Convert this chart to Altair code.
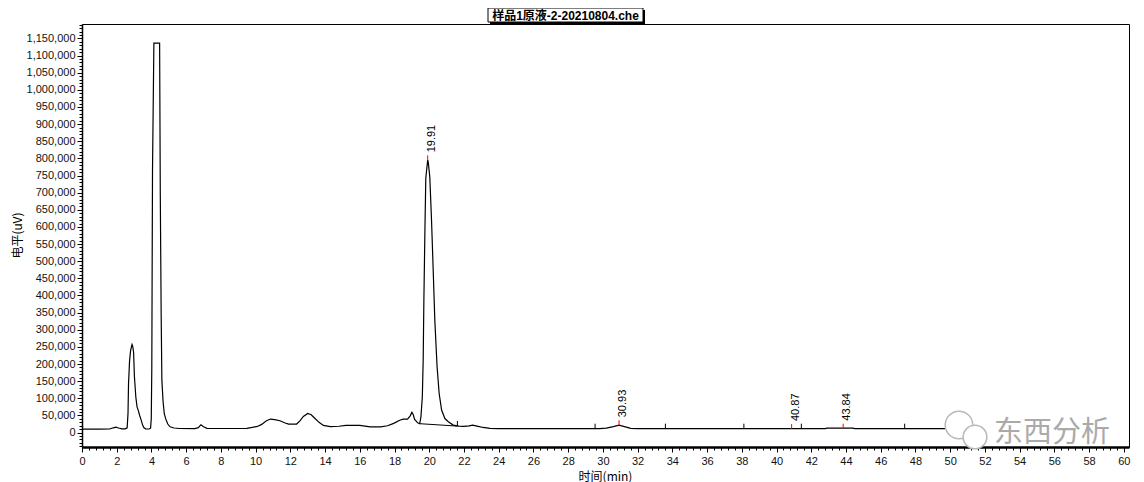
import altair as alt
import pandas as pd

# ---------------- data ----------------
times = [0.0, 1.0, 1.6, 1.8, 1.95, 2.1, 2.3, 2.5, 2.6, 2.65, 2.68, 2.74, 2.8, 2.88, 2.92,
         2.97, 3.02, 3.1, 3.17, 3.24, 3.32, 3.4, 3.49, 3.57, 3.67, 3.87, 3.95, 3.99, 4.02,
         4.06, 4.14, 4.47, 4.51, 4.56, 4.6, 4.67, 4.74, 4.82, 4.94, 5.07, 5.3, 5.6, 6.5,
         6.7, 6.85, 7.0, 7.2, 8.0, 9.5, 9.8, 10.1, 10.35, 10.6, 10.85, 11.1, 11.4, 11.7,
         11.9, 12.36, 12.55, 12.75, 13.0, 13.2, 13.42, 13.65, 13.9, 14.3, 14.8, 15.2, 16.0,
         16.6, 17.2, 17.6, 17.95, 18.3, 18.5, 18.75, 18.9, 19.0, 19.08, 19.15, 19.33, 19.45,
         19.52, 19.6, 19.65, 19.69, 19.75, 19.8, 19.91, 19.94, 20.03, 20.13, 20.22, 20.32,
         20.45, 20.57, 20.71, 20.9, 21.1, 21.38, 21.7, 22.0, 22.3, 22.5, 22.75, 23.1, 23.5,
         24.0, 29.8, 30.2, 30.6, 30.93, 31.3, 31.6, 32.0, 42.8, 42.9, 44.4, 44.5, 49.7]
signal = [10000, 10000, 10500, 14000, 16000, 13500, 11000, 11000, 14000, 56000, 143000,
          210000, 240000, 257000, 252000, 235000, 163000, 104000, 75000, 65000, 50000,
          38000, 22000, 14000, 11000, 10500, 13000, 41000, 187000, 761000, 1136000,
          1136000, 688000, 343000, 153000, 90000, 55000, 40000, 25000, 17000, 13500, 12000,
          11500, 14500, 23000, 17000, 12500, 12000, 12500, 15000, 18000, 24000, 34000,
          39500, 38000, 34500, 28000, 25000, 25000, 34000, 47000, 56000, 52000, 41000,
          30000, 21000, 17500, 18500, 21000, 21000, 16500, 17000, 20000, 27000, 36000,
          39500, 39500, 49000, 59000, 52000, 39000, 28500, 26000, 46000, 104000, 211000,
          387000, 591000, 742000, 795000, 790000, 746000, 620000, 484000, 328000, 192000,
          114000, 66000, 41000, 31500, 22000, 19000, 18000, 19500, 22000, 19000, 15000,
          12500, 11500, 11500, 13000, 17500, 22000, 16500, 12500, 11500, 11500, 13000,
          13000, 11500, 11500]

# integration baseline drawn under the main peak
base_times = [19.45, 21.62]
base_values = [26000, 19000]

# detected peaks (red apex markers + labels)
peak_times = [19.91, 30.93, 40.87, 43.84]
peak_tops = [795000, 22000, 11000, 12000]
peak_labels = ["19.91", "30.93", "40.87", "43.84"]

# peak boundary markers (black)
boundary_times = [21.62, 29.55, 33.6, 38.12, 41.43, 47.38]
boundary_levels = [19000, 11000, 11000, 11000, 11000, 11000]

title_text = "样品1原液-2-20210804.che"
x_title = "时间(min)"
y_title = "电平(uV)"
watermark = "东西分析"

x_major = list(range(0, 61, 2))
x_minor = [round(i * 0.4, 1) for i in range(151)]
y_major = list(range(0, 1150001, 50000))
y_minor = list(range(-40000, 1190001, 10000))

# ---------------- chart ----------------
FONT = "Liberation Sans, Noto Sans CJK SC"
CJK = "Noto Sans CJK SC"
W, H = 1047, 423

xscale = alt.Scale(domain=[0, 60.3], nice=False, zero=False)
yscale = alt.Scale(domain=[-42000, 1192000], nice=False, zero=False)

sig_df = pd.DataFrame({"t": times, "v": signal})
base_df = pd.DataFrame({"t": base_times, "v": base_values})
peak_df = pd.DataFrame({"t": peak_times, "v": peak_tops, "label": peak_labels})
bnd_df = pd.DataFrame({"t": boundary_times, "v": boundary_levels})
one = pd.DataFrame({"title": [title_text], "wm": [watermark]})

x_major_axis = alt.Axis(values=x_major, format="d", orient="bottom", tickSize=5,
                        labelPadding=3, labelFont=FONT, labelFontSize=11, labelColor="#111",
                        labelFlush=False, labelOverlap=False,
                        domainColor="#000", domainWidth=2.5, tickColor="#000", grid=False,
                        title=x_title, titleFont=CJK, titleFontSize=12,
                        titleFontWeight="normal", titleColor="#000",
                        titleX=523, titleY=29, titleAlign="center", titleBaseline="middle")
y_major_axis = alt.Axis(values=y_major, format=",d", orient="left", tickSize=5,
                        labelPadding=2, labelFont=FONT, labelFontSize=11, labelColor="#111",
                        labelOverlap=False, labelFlush=False,
                        domainColor="#000", domainWidth=1.5, tickColor="#000", grid=False,
                        title=y_title, titleFont=CJK, titleFontSize=12,
                        titleFontWeight="normal", titleColor="#000", titleAngle=270,
                        titleX=-65, titleY=211, titleAlign="center", titleBaseline="middle")
x_minor_axis = alt.Axis(values=x_minor, orient="bottom", tickSize=3, labels=False,
                        domain=False, grid=False, tickColor="#000", title=None)
y_minor_axis = alt.Axis(values=y_minor, orient="left", tickSize=3, labels=False,
                        domain=False, grid=False, tickColor="#000", title=None)

trace = alt.Chart(sig_df).mark_line(color="black", strokeWidth=1.2).encode(
    x=alt.X("t:Q", scale=xscale, axis=x_major_axis),
    y=alt.Y("v:Q", scale=yscale, axis=y_major_axis),
    order="t:Q",
)

baseline = alt.Chart(base_df).mark_line(color="black", strokeWidth=1).encode(
    x=alt.X("t:Q", scale=xscale, axis=x_minor_axis),
    y=alt.Y("v:Q", scale=yscale, axis=y_minor_axis),
)

bounds = alt.Chart(bnd_df).transform_calculate(v2="datum.v + 15000").mark_rule(
    color="black", strokeWidth=1).encode(
    x=alt.X("t:Q", scale=xscale, axis=None),
    y=alt.Y("v:Q", scale=yscale, axis=None),
    y2="v2:Q",
)

apex = alt.Chart(peak_df).transform_calculate(v2="datum.v + 14000").mark_rule(
    color="#ff0000", strokeWidth=1).encode(
    x=alt.X("t:Q", scale=xscale, axis=None),
    y=alt.Y("v:Q", scale=yscale, axis=None),
    y2="v2:Q",
)

labels = alt.Chart(peak_df).transform_calculate(v2="datum.v + 14000").mark_text(
    angle=270, align="left", baseline="top", dx=3, dy=-2, font=FONT, fontSize=11,
    color="#000").encode(
    x=alt.X("t:Q", scale=xscale, axis=None),
    y=alt.Y("v2:Q", scale=yscale, axis=None),
    text="label:N",
)

# watermark (logo bubbles + text)
bubble1 = alt.Chart(one).mark_point(shape="circle", filled=False, fill="white",
                                    fillOpacity=1, stroke="#b8b8b8", strokeWidth=1.5,
                                    size=760).encode(x=alt.value(877), y=alt.value(401))
bubble2 = alt.Chart(one).mark_point(shape="circle", filled=False, fill="white",
                                    fillOpacity=1, stroke="#b8b8b8", strokeWidth=1.5,
                                    size=560).encode(x=alt.value(893), y=alt.value(413))
wm_text = alt.Chart(one).mark_text(font=CJK, fontSize=29, color="#aaaaaa",
                                   align="center", baseline="middle").encode(
    x=alt.value(970), y=alt.value(409), text="wm:N")

# title box with shadow
t_shadow = alt.Chart(one).mark_rect(color="black").encode(
    x=alt.value(408), x2=alt.value(563), y=alt.value(-14), y2=alt.value(0))
t_box = alt.Chart(one).mark_rect(fill="white", stroke="black", strokeWidth=1).encode(
    x=alt.value(406), x2=alt.value(561), y=alt.value(-16), y2=alt.value(-2))
t_text = alt.Chart(one).mark_text(font=FONT, fontSize=12, fontWeight="bold",
                                  color="black", align="center", baseline="middle").encode(
    x=alt.value(483.5), y=alt.value(-8.5), text="title:N")

chart = alt.layer(
    trace, baseline, bounds, apex, labels, bubble1, bubble2, wm_text,
    t_shadow, t_box, t_text
).resolve_axis(x="independent", y="independent").properties(
    width=W, height=H,
    autosize=alt.AutoSizeParams(type="none"),
    padding={"left": 74, "top": 16, "right": 6, "bottom": 35},
    background="white",
).configure_view(stroke="black", strokeWidth=1)

chart.save("out.html", embed_options={"renderer": "svg", "actions": False})
